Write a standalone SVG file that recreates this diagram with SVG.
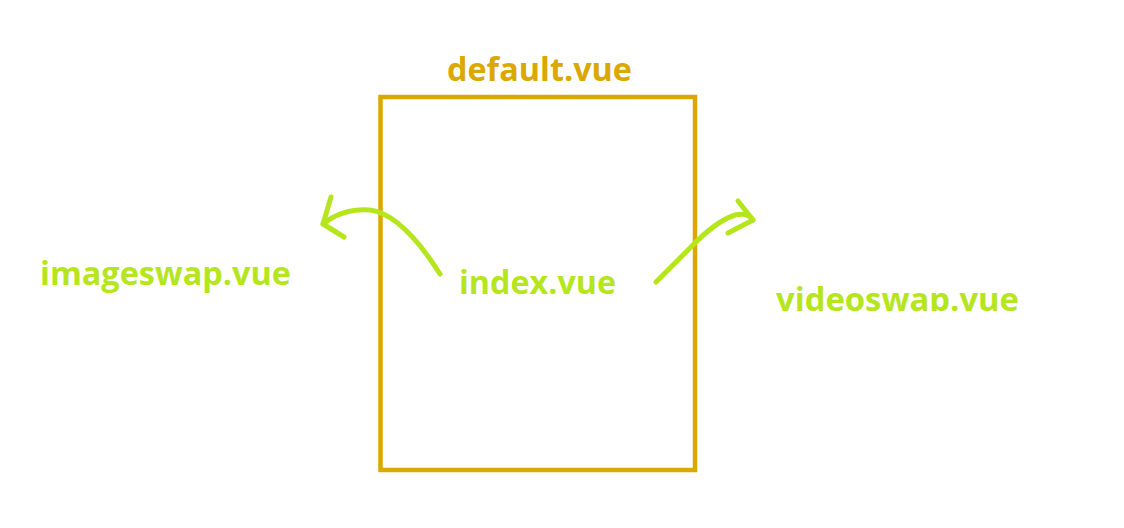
<svg xmlns="http://www.w3.org/2000/svg" width="1124" height="528" viewBox="0 0 1124 528">
<style>
.lbl{font-family:"Open Sans","Noto Sans",sans-serif;font-weight:700;font-size:32px}
.g{fill:#b5e61d}
.o{fill:#dba800}
.arr{fill:none;stroke:#b5e61d;stroke-width:5;stroke-linecap:round;stroke-linejoin:round}
</style>
<defs>
<clipPath id="clipv"><rect x="760" y="270" width="300" height="41"/></clipPath>
</defs>
<rect width="1124" height="528" fill="#ffffff"/>
<g id="default">
<rect x="380.5" y="97" width="314.5" height="373" fill="#ffffff" stroke="#dba800" stroke-width="4.5"/>
<text class="lbl o" x="447" y="81" textLength="185" lengthAdjust="spacingAndGlyphs">default.vue</text>
</g>
<g id="index">
<text class="lbl g" x="459" y="294" textLength="157" lengthAdjust="spacingAndGlyphs">index.vue</text>
</g>
<g id="imageswap">
<text class="lbl g" x="40" y="285" textLength="251" lengthAdjust="spacingAndGlyphs">imageswap.vue</text>
</g>
<g id="videoswap" clip-path="url(#clipv)">
<text class="lbl g" x="776" y="311" textLength="243" lengthAdjust="spacingAndGlyphs">videoswap.vue</text>
</g>
<g id="connectors">
<path class="arr" d="M440,274 Q402,214 370,210 Q343,208 323,224"/>
<path class="arr" d="M331,197 L323,224 L344,237"/>
<path class="arr" d="M656,282 L690,248 Q716,221 735,215 Q748,212 753,220"/>
<path class="arr" d="M738,201 L753,220 L728,233"/>
</g>
</svg>
